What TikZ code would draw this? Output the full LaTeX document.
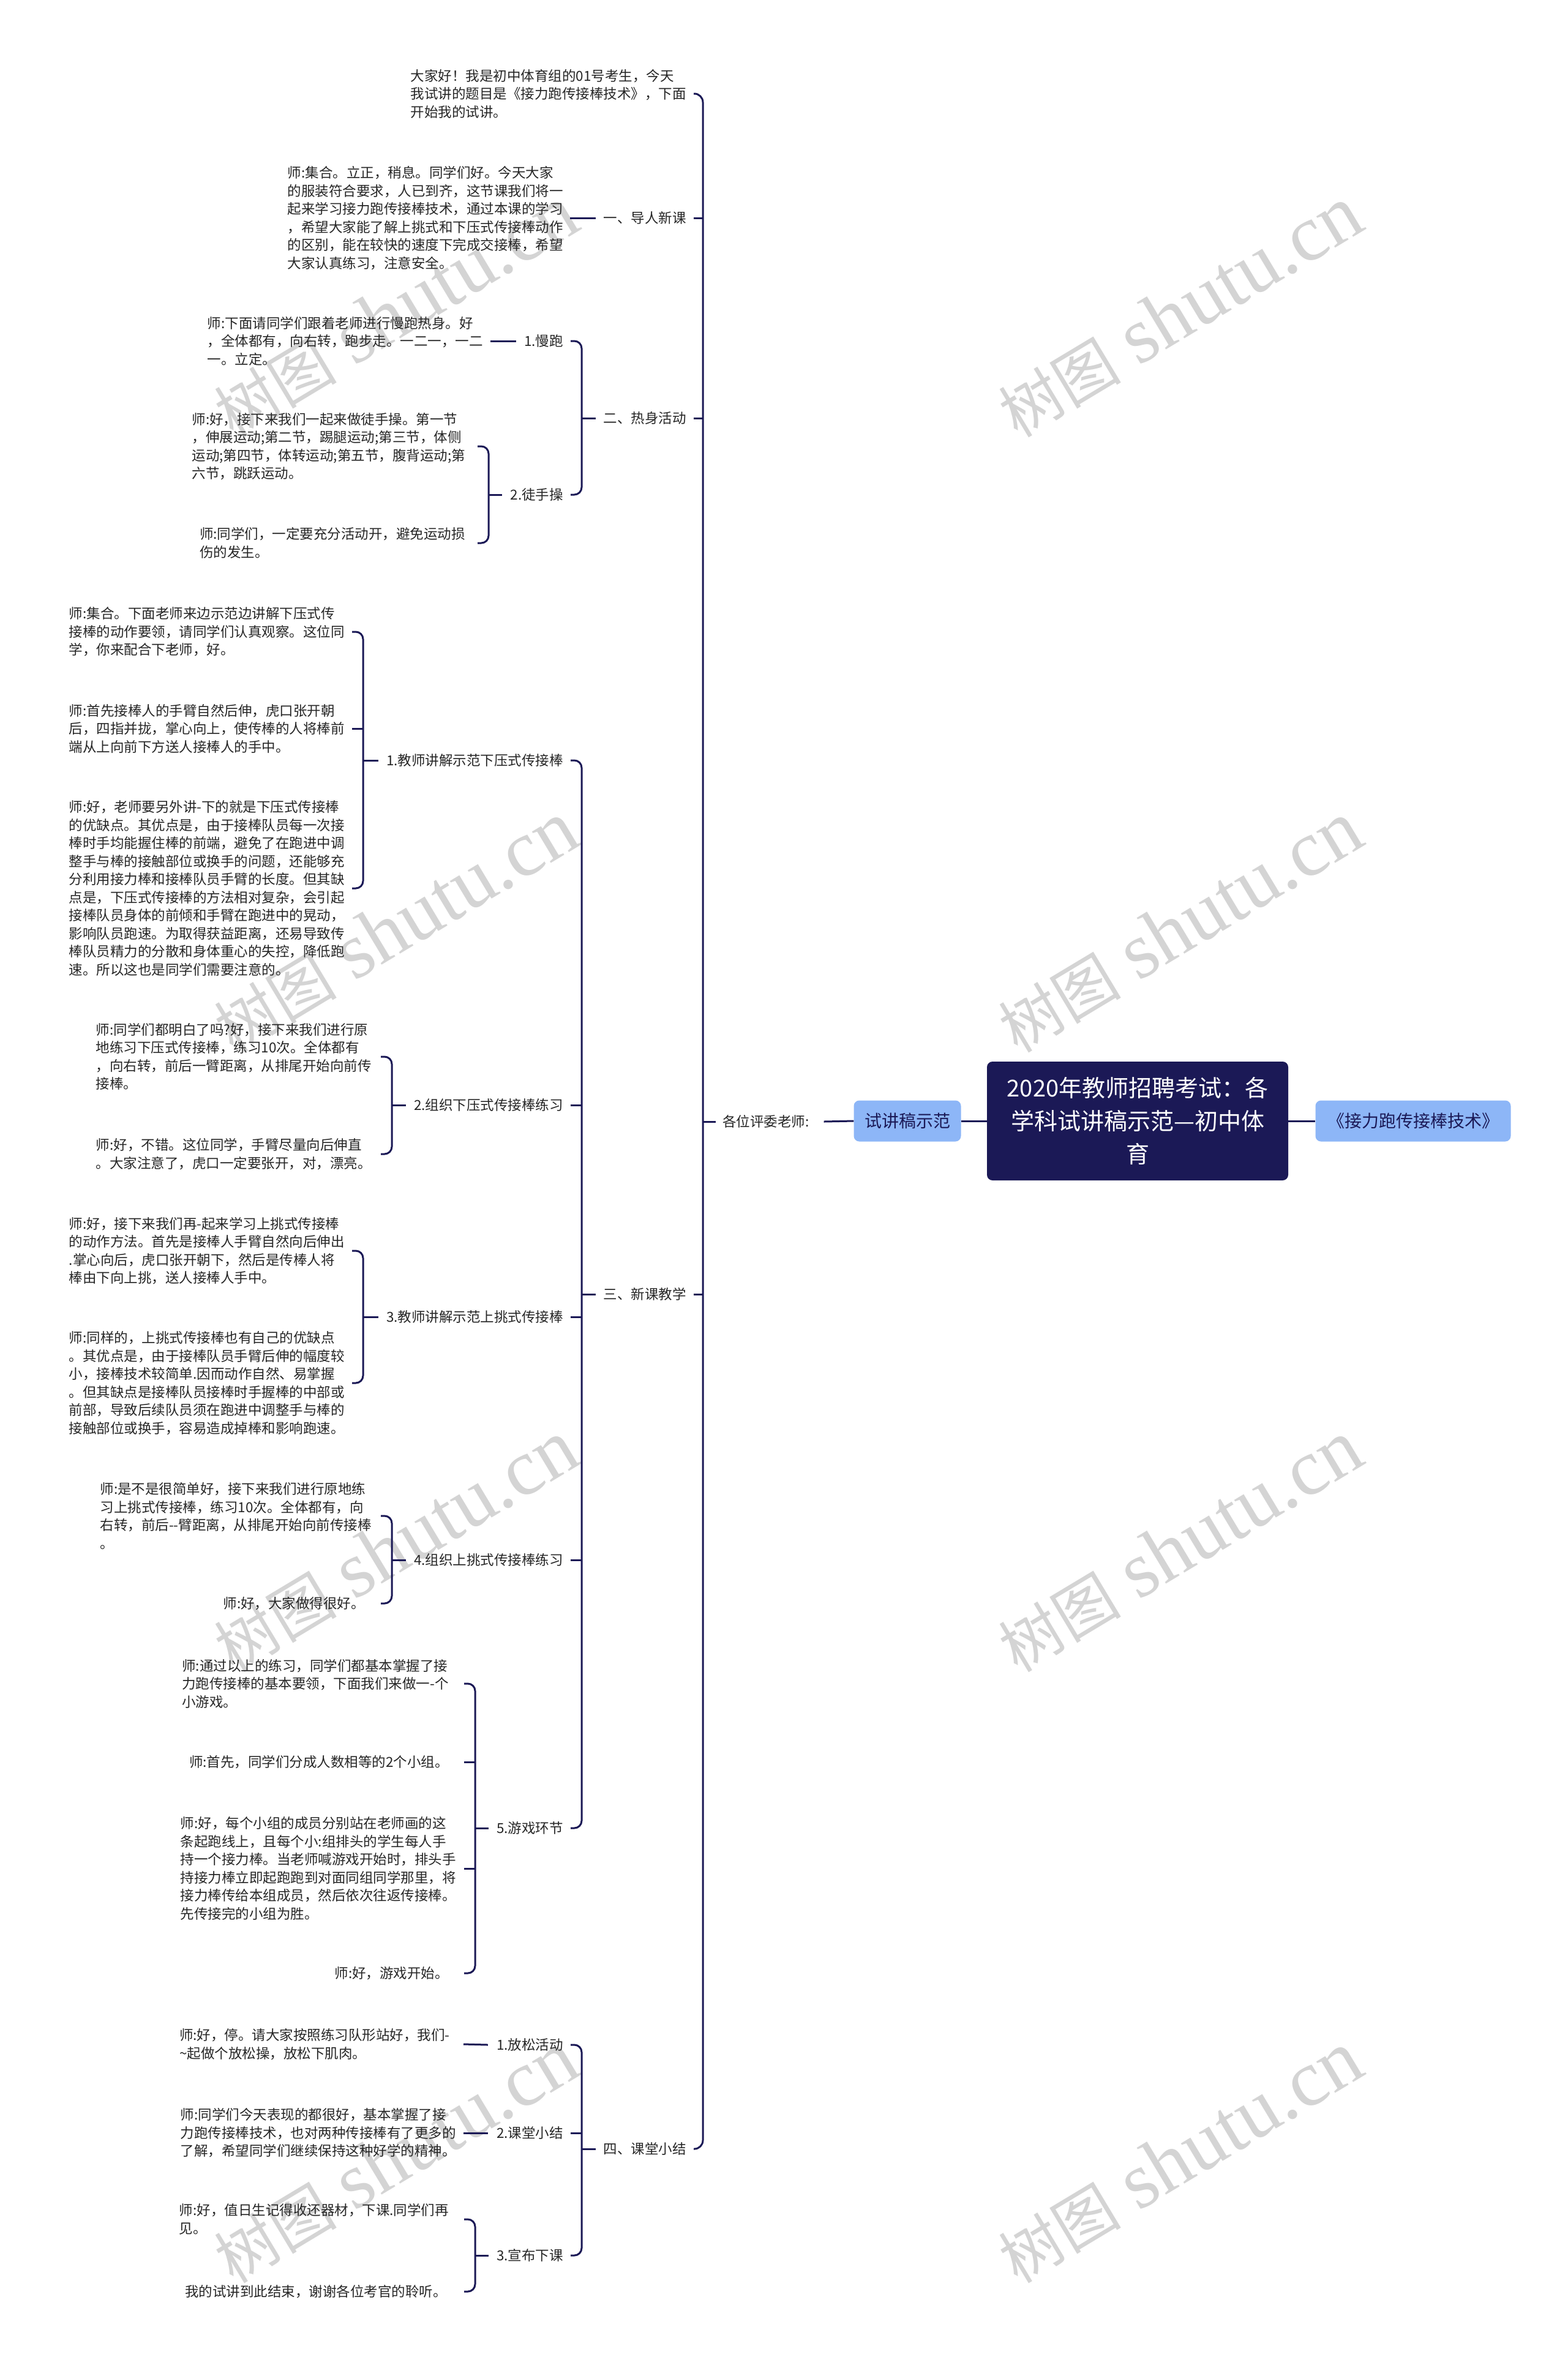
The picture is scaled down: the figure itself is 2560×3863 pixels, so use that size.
\documentclass[tikz,border=0pt]{standalone}
\usepackage{fontspec}
\setmainfont{Noto Sans CJK SC}
\newfontfamily\wmlatin{Liberation Serif}
\definecolor{navy}{HTML}{1B1956}
\definecolor{bluefill}{HTML}{8DB6F7}
\definecolor{txtc}{HTML}{262626}
\definecolor{wmgray}{HTML}{D4D4D4}
\newcommand\leaffont{\fontsize{22.5pt}{29.5pt}\selectfont}
\tikzset{
  leaf/.style={font=\leaffont,text=txtc,align=left,inner sep=0pt,anchor=east},
  lab/.style={font=\leaffont,text=txtc,inner sep=0pt,anchor=east},
  conn/.style={draw=navy,line width=3pt,rounded corners=12pt},
  wm/.style={text=wmgray,inner sep=0pt,rotate=31},
  bluebox/.style={fill=bluefill,rounded corners=9pt,text=navy,font=\fontsize{28pt}{34pt}\selectfont,minimum height=67pt,inner sep=0pt},
  rootbox/.style={fill=navy,rounded corners=9pt,text=white,align=center,font=\fontsize{38pt}{54pt}\selectfont,minimum width=492pt,minimum height=194pt,inner sep=0pt},
}
\begin{document}
\begin{tikzpicture}[x=1pt,y=-1pt]
\useasboundingbox[fill=white] (0,0) rectangle (2560,3863);

% watermarks
\foreach \wx/\wy [count=\i] in {646/510,1927/510,646/1515,1927/1515,646/2526,1927/2526,646/3524,1927/3524}
  \node[wm] (wm\i) at (\wx,\wy) {{\fontsize{100pt}{100pt}\selectfont 树图}\hspace{30pt}{\wmlatin\fontsize{130pt}{130pt}\selectfont shutu.cn}};

% central nodes
\node[rootbox] (root) at (1858,1831) {2020年教师招聘考试：各\\学科试讲稿示范—初中体\\育};
\node[bluebox,minimum width=175pt] (left1) at (1482,1831) {试讲稿示范};
\node[bluebox,minimum width=319pt] (right1) at (2308,1831) {《接力跑传接棒技术》};
\node[lab,anchor=west] (top) at (1180,1832) {各位评委老师:};

% level 1
\node[leaf] (t0) at (1121,153) {大家好！我是初中体育组的01号考生，今天\\我试讲的题目是《接力跑传接棒技术》，下面\\开始我的试讲。};
\node[lab] (s1) at (1121,356) {一、导人新课};
\node[lab] (s2) at (1121,683) {二、热身活动};
\node[lab] (s3) at (1121,2114) {三、新课教学};
\node[lab] (s4) at (1121,3510) {四、课堂小结};

% section 1
\node[leaf] (a0) at (920,356) {师:集合。立正，稍息。同学们好。今天大家\\的服装符合要求，人已到齐，这节课我们将一\\起来学习接力跑传接棒技术，通过本课的学习\\，希望大家能了解上挑式和下压式传接棒动作\\的区别，能在较快的速度下完成交接棒，希望\\大家认真练习，注意安全。};

% section 2
\node[lab] (b1) at (920,557) {1.慢跑};
\node[leaf] (b1a) at (789,557) {师:下面请同学们跟着老师进行慢跑热身。好\\，全体都有，向右转，跑步走。一二一，一二\\一。立定。};
\node[lab] (b2) at (920,808) {2.徒手操};
\node[leaf] (b2a) at (760,729) {师:好，接下来我们一起来做徒手操。第一节\\，伸展运动;第二节，踢腿运动;第三节，体侧\\运动;第四节，体转运动;第五节，腹背运动;第\\六节，跳跃运动。};
\node[leaf] (b2b) at (760,887) {师:同学们，一定要充分活动开，避免运动损\\伤的发生。};

% section 3
\node[lab] (c1) at (920,1242) {1.教师讲解示范下压式传接棒};
\node[leaf] (c1a) at (563,1032) {师:集合。下面老师来边示范边讲解下压式传\\接棒的动作要领，请同学们认真观察。这位同\\学，你来配合下老师，好。};
\node[leaf] (c1b) at (563,1190) {师:首先接棒人的手臂自然后伸，虎口张开朝\\后，四指并拢，掌心向上，使传棒的人将棒前\\端从上向前下方送人接棒人的手中。};
\node[leaf] (c1c) at (563,1451) {师:好，老师要另外讲-下的就是下压式传接棒\\的优缺点。其优点是，由于接棒队员每一次接\\棒时手均能握住棒的前端，避免了在跑进中调\\整手与棒的接触部位或换手的问题，还能够充\\分利用接力棒和接棒队员手臂的长度。但其缺\\点是，下压式传接棒的方法相对复杂，会引起\\接棒队员身体的前倾和手臂在跑进中的晃动，\\影响队员跑速。为取得获益距离，还易导致传\\棒队员精力的分散和身体重心的失控，降低跑\\速。所以这也是同学们需要注意的。};

\node[lab] (c2) at (920,1805) {2.组织下压式传接棒练习};
\node[leaf] (c2a) at (607,1726) {师:同学们都明白了吗?好，接下来我们进行原\\地练习下压式传接棒，练习10次。全体都有\\，向右转，前后一臂距离，从排尾开始向前传\\接棒。};
\node[leaf] (c2b) at (607,1885) {师:好，不错。这位同学，手臂尽量向后伸直\\。大家注意了，虎口一定要张开，对，漂亮。};

\node[lab] (c3) at (920,2151) {3.教师讲解示范上挑式传接棒};
\node[leaf] (c3a) at (563,2043) {师:好，接下来我们再-起来学习上挑式传接棒\\的动作方法。首先是接棒人手臂自然向后伸出\\.掌心向后，虎口张开朝下，然后是传棒人将\\棒由下向上挑，送人接棒人手中。};
\node[leaf] (c3b) at (563,2259) {师:同样的，上挑式传接棒也有自己的优缺点\\。其优点是，由于接棒队员手臂后伸的幅度较\\小，接棒技术较简单.因而动作自然、易掌握\\。但其缺点是接棒队员接棒时手握棒的中部或\\前部，导致后续队员须在跑进中调整手与棒的\\接触部位或换手，容易造成掉棒和影响跑速。};

\node[lab] (c4) at (920,2548) {4.组织上挑式传接棒练习};
\node[leaf] (c4a) at (607,2476) {师:是不是很简单好，接下来我们进行原地练\\习上挑式传接棒，练习10次。全体都有，向\\右转，前后-{}-臂距离，从排尾开始向前传接棒\\。};
\node[leaf] (c4b) at (596,2619) {师:好，大家做得很好。};

\node[lab] (c5) at (920,2986) {5.游戏环节};
\node[leaf] (c5a) at (733,2750) {师:通过以上的练习，同学们都基本掌握了接\\力跑传接棒的基本要领，下面我们来做一-个\\小游戏。};
\node[leaf] (c5b) at (733,2878) {师:首先，同学们分成人数相等的2个小组。};
\node[leaf] (c5c) at (745,3052) {师:好，每个小组的成员分别站在老师画的这\\条起跑线上，且每个小:组排头的学生每人手\\持一个接力棒。当老师喊游戏开始时，排头手\\持接力棒立即起跑跑到对面同组同学那里，将\\接力棒传给本组成员，然后依次往返传接棒。\\先传接完的小组为胜。};
\node[leaf] (c5d) at (733,3223) {师:好，游戏开始。};

% section 4
\node[lab] (d1) at (920,3340) {1.放松活动};
\node[leaf] (d1a) at (735,3339) {师:好，停。请大家按照练习队形站好，我们-\\\textasciitilde 起做个放松操，放松下肌肉。};
\node[lab] (d2) at (920,3484) {2.课堂小结};
\node[leaf] (d2a) at (745,3484) {师:同学们今天表现的都很好，基本掌握了接\\力跑传接棒技术，也对两种传接棒有了更多的\\了解，希望同学们继续保持这种好学的精神。};
\node[lab] (d3) at (920,3684) {3.宣布下课};
\node[leaf] (d3a) at (733,3625) {师:好，值日生记得收还器材，下课.同学们再\\见。};
\node[leaf] (d3b) at (730,3743) {我的试讲到此结束，谢谢各位考官的聆听。};

% bracket x positions
\coordinate (B0) at (1148,0);
\coordinate (B1) at (950,0);
\coordinate (Bb2) at (798,0);
\coordinate (Bc1) at (593,0);
\coordinate (Bc2) at (640,0);
\coordinate (Bc3) at (593,0);
\coordinate (Bc4) at (640,0);
\coordinate (Bc5) at (776,0);
\coordinate (Bd3) at (776,0);

% central connectors
\draw[conn] (left1.east) -- (root.west);
\draw[conn] (root.east) -- (right1.west);
\draw[conn] ([xshift=24pt]top.east) -- (left1.west);

% top bracket
\draw[conn,rounded corners=14pt] ([xshift=-15pt]B0 |- t0.east) -- (B0 |- t0.east) -- (B0 |- s4.east) -- ([xshift=-15pt]B0 |- s4.east);
\foreach \n in {s1,s2,s3} \draw[conn] ([xshift=-15pt]B0 |- \n.east) -- (B0 |- \n.east);
\draw[conn] (B0 |- top.west) -- ([xshift=-11pt]top.west);

% section 1
\draw[conn] ([xshift=11pt]a0.east) -- ([xshift=-13pt]s1.west);

% section 2
\draw[conn] ([xshift=-18pt]B1 |- b1.east) -- (B1 |- b1.east) -- (B1 |- b2.east) -- ([xshift=-18pt]B1 |- b2.east);
\draw[conn] (B1 |- s2.west) -- ([xshift=-13pt]s2.west);
\draw[conn] ([xshift=12pt]b1a.east) -- ([xshift=-13pt]b1.west);
\draw[conn] ([xshift=-18pt]Bb2 |- b2a.east) -- (Bb2 |- b2a.east) -- (Bb2 |- b2b.east) -- ([xshift=-18pt]Bb2 |- b2b.east);
\draw[conn] (Bb2 |- b2.west) -- ([xshift=-13pt]b2.west);

% section 3
\draw[conn] ([xshift=-18pt]B1 |- c1.east) -- (B1 |- c1.east) -- (B1 |- c5.east) -- ([xshift=-18pt]B1 |- c5.east);
\foreach \n in {c2,c3,c4} \draw[conn] ([xshift=-18pt]B1 |- \n.east) -- (B1 |- \n.east);
\draw[conn] (B1 |- s3.west) -- ([xshift=-13pt]s3.west);

\draw[conn] ([xshift=-18pt]Bc1 |- c1a.east) -- (Bc1 |- c1a.east) -- (Bc1 |- c1c.east) -- ([xshift=-18pt]Bc1 |- c1c.east);
\draw[conn] ([xshift=-18pt]Bc1 |- c1b.east) -- (Bc1 |- c1b.east);
\draw[conn] (Bc1 |- c1.west) -- ([xshift=-13pt]c1.west);

\draw[conn] ([xshift=-18pt]Bc2 |- c2a.east) -- (Bc2 |- c2a.east) -- (Bc2 |- c2b.east) -- ([xshift=-18pt]Bc2 |- c2b.east);
\draw[conn] (Bc2 |- c2.west) -- ([xshift=-13pt]c2.west);

\draw[conn] ([xshift=-18pt]Bc3 |- c3a.east) -- (Bc3 |- c3a.east) -- (Bc3 |- c3b.east) -- ([xshift=-18pt]Bc3 |- c3b.east);
\draw[conn] (Bc3 |- c3.west) -- ([xshift=-13pt]c3.west);

\draw[conn] ([xshift=-18pt]Bc4 |- c4a.east) -- (Bc4 |- c4a.east) -- (Bc4 |- c4b.east) -- ([xshift=-18pt]Bc4 |- c4b.east);
\draw[conn] (Bc4 |- c4.west) -- ([xshift=-13pt]c4.west);

\draw[conn] ([xshift=-18pt]Bc5 |- c5a.east) -- (Bc5 |- c5a.east) -- (Bc5 |- c5d.east) -- ([xshift=-18pt]Bc5 |- c5d.east);
\foreach \n in {c5b,c5c} \draw[conn] ([xshift=-18pt]Bc5 |- \n.east) -- (Bc5 |- \n.east);
\draw[conn] (Bc5 |- c5.west) -- ([xshift=-13pt]c5.west);

% section 4
\draw[conn] ([xshift=-18pt]B1 |- d1.east) -- (B1 |- d1.east) -- (B1 |- d3.east) -- ([xshift=-18pt]B1 |- d3.east);
\draw[conn] ([xshift=-18pt]B1 |- d2.east) -- (B1 |- d2.east);
\draw[conn] (B1 |- s4.west) -- ([xshift=-13pt]s4.west);
\draw[conn] ([xshift=22pt]d1a.east) -- ([xshift=-14pt]d1.west);
\draw[conn] ([xshift=12pt]d2a.east) -- ([xshift=-14pt]d2.west);
\draw[conn] ([xshift=-18pt]Bd3 |- d3a.east) -- (Bd3 |- d3a.east) -- (Bd3 |- d3b.east) -- ([xshift=-18pt]Bd3 |- d3b.east);
\draw[conn] (Bd3 |- d3.west) -- ([xshift=-13pt]d3.west);
\end{tikzpicture}
\end{document}
